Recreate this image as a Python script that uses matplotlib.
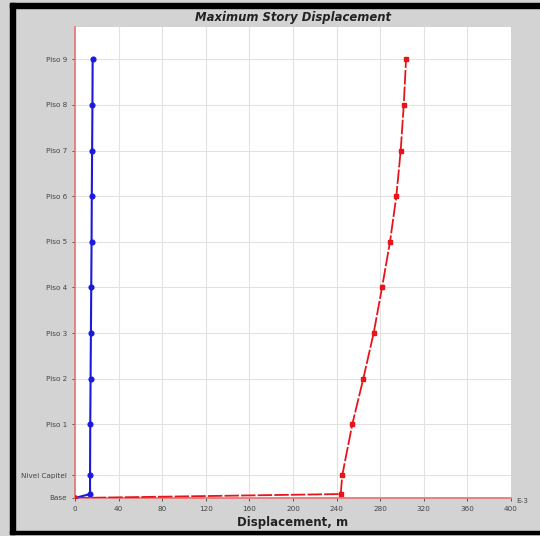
import matplotlib.pyplot as plt
from matplotlib.patches import Rectangle

# story levels (elevation, m) and labels
stories = ['Base', '', 'Nivel Capitel', 'Piso 1', 'Piso 2', 'Piso 3', 'Piso 4',
           'Piso 5', 'Piso 6', 'Piso 7', 'Piso 8', 'Piso 9']
elev = [0.0, 0.26, 1.5, 4.85, 7.85, 10.85, 13.85, 16.85, 19.85, 22.85, 25.85, 28.85]

# displacements (E-3 m)
disp_blue = [0.0, 13.8, 13.8, 14.0, 14.3, 14.6, 14.9, 15.2, 15.4, 15.7, 16.0, 16.2]
disp_red = [0.0, 243.8, 245.2, 254.4, 264.5, 274.0, 281.7, 289.0, 294.8, 298.8, 301.6, 303.7]

xticks = [0, 40, 80, 120, 160, 200, 240, 280, 320, 360, 400]

bg = '#d3d3d3'
fig = plt.figure(figsize=(5.4, 5.36), dpi=100, facecolor=bg)
ax = fig.add_axes([75 / 540, 38 / 536, 436 / 540, 471.3 / 536])
ax.set_facecolor('white')

ax.set_xlim(0, 400)
ax.set_ylim(0, 31)

# grid
for x in xticks[1:-1]:
    ax.axvline(x, color='#e2e2e2', lw=0.8, zorder=0)
for y in elev[2:]:
    ax.axhline(y, color='#e2e2e2', lw=0.8, zorder=0)

ax.plot(disp_blue, elev, color='#1a1adf', lw=1.5, marker='o', ms=3.4, zorder=3)
ax.plot(disp_red, elev, color='#e8141c', lw=1.3, ls=(0, (8, 1.2)), marker='s', ms=3.0, zorder=4)

for s in ['top', 'right']:
    ax.spines[s].set_visible(False)
for s in ['left', 'bottom']:
    ax.spines[s].set_color('#e87070')
    ax.spines[s].set_linewidth(1.2)

ytick_pos = [e for e, s in zip(elev, stories) if s]
ytick_lab = [s for s in stories if s]
ax.set_yticks(ytick_pos)
ax.set_yticklabels(ytick_lab)
ax.set_xticks(xticks)
ax.set_xticklabels([str(x) for x in xticks])
ax.tick_params(axis='both', labelsize=5.2, labelcolor='#444444', color='#555555',
               length=2.5, width=0.7, pad=3)

ax.text(1.012, -0.0, 'E-3', transform=ax.transAxes, fontsize=5.2, color='#444444',
        ha='left', va='top')
ax.text(0.5, 1.005, 'Maximum Story Displacement', transform=ax.transAxes,
        fontsize=8.4, fontweight='bold', fontstyle='italic', color='#222222',
        ha='center', va='bottom')
ax.set_xlabel('Displacement, m', fontsize=8.5, fontweight='bold', color='#222222', labelpad=3)

# black frame (top, left, bottom)
fig.patches.append(Rectangle((10 / 540, 528 / 536), 530 / 540, 5 / 536, transform=fig.transFigure,
                             color='black', zorder=10))
fig.patches.append(Rectangle((10 / 540, 2 / 536), 5 / 540, 531 / 536, transform=fig.transFigure,
                             color='black', zorder=10))
fig.patches.append(Rectangle((10 / 540, 2 / 536), 530 / 540, 3 / 536, transform=fig.transFigure,
                             color='black', zorder=10))

fig.savefig('out.png', dpi=100, facecolor=bg)
